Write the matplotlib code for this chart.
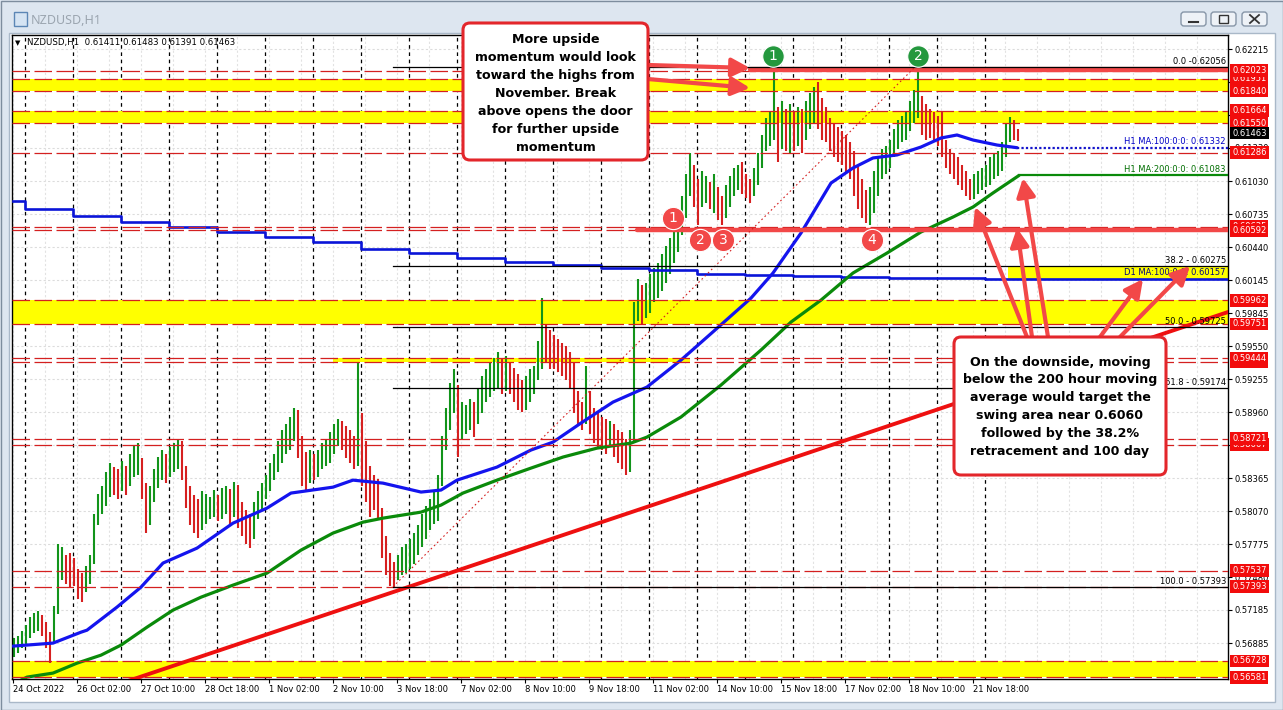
import numpy as np
import matplotlib
matplotlib.use("Agg")
import matplotlib.pyplot as plt
from matplotlib.patches import Rectangle, FancyBboxPatch
from matplotlib.lines import Line2D
from matplotlib.transforms import IdentityTransform, blended_transform_factory

W, H = 1283, 710

# ---- price data: 2-hour bars, one trading day per row (starts 24 Oct 18:00) ----
bar_high = [
    0.5693, 0.5695, 0.5700,
    0.5705, 0.5712, 0.5716, 0.5718, 0.5714, 0.5708, 0.5699, 0.5722, 0.5778, 0.5775, 0.5768, 0.5770,
    0.5765, 0.5755, 0.5752, 0.5758, 0.5768, 0.5805, 0.5823, 0.5830, 0.5842, 0.5850, 0.5847, 0.5845,
    0.5852, 0.5848, 0.5858, 0.5866, 0.5868, 0.5855, 0.5832, 0.5830, 0.5845, 0.5856, 0.5862, 0.5858,
    0.5865, 0.5868, 0.5871, 0.5870, 0.5848, 0.5830, 0.5822, 0.5818, 0.5825, 0.5823, 0.5820, 0.5826,
    0.5822, 0.5828, 0.5830, 0.5827, 0.5833, 0.5831, 0.5815, 0.5808, 0.5805, 0.5815, 0.5825, 0.5832,
    0.5840, 0.5850, 0.5858, 0.5870, 0.5880, 0.5885, 0.5892, 0.5900, 0.5898, 0.5875, 0.5860, 0.5862,
    0.5858, 0.5862, 0.5868, 0.5872, 0.5878, 0.5885, 0.5890, 0.5888, 0.5884, 0.5880, 0.5875, 0.5941,
    0.5895, 0.5870, 0.5848, 0.5840, 0.5836, 0.5810, 0.5785, 0.5770, 0.5762, 0.5768, 0.5775, 0.5778,
    0.5782, 0.5788, 0.5795, 0.5805, 0.5812, 0.5818, 0.5825, 0.5840, 0.5875, 0.5900, 0.5922, 0.5935,
    0.5920, 0.5905, 0.5902, 0.5908, 0.5905, 0.5918, 0.5928, 0.5935, 0.5940, 0.5945, 0.5950, 0.5944,
    0.5946, 0.5940, 0.5936, 0.5930, 0.5925, 0.5928, 0.5935, 0.5937, 0.5960, 0.5998, 0.5975, 0.5970,
    0.5965, 0.5962, 0.5958, 0.5955, 0.5950, 0.5940, 0.5915, 0.5905, 0.5937, 0.5915, 0.5900, 0.5895,
    0.5892, 0.5890, 0.5888, 0.5885, 0.5880, 0.5878, 0.5872, 0.5880, 0.5995, 0.6015, 0.6010, 0.6012,
    0.6020, 0.6025, 0.6030, 0.6038, 0.6045, 0.6052, 0.6060, 0.6070, 0.6090, 0.6110, 0.6128, 0.6118,
    0.6105, 0.6112, 0.6108, 0.6102, 0.6110, 0.6098, 0.6090, 0.6100, 0.6108, 0.6115, 0.6118, 0.6120,
    0.6110, 0.6105, 0.6115, 0.6128, 0.6145, 0.6160, 0.6165, 0.6201, 0.6170, 0.6175, 0.6168, 0.6172,
    0.6165, 0.6170, 0.6168, 0.6175, 0.6182, 0.6188, 0.6192, 0.6178, 0.6170, 0.6160, 0.6155, 0.6152,
    0.6148, 0.6145, 0.6138, 0.6130, 0.6118, 0.6105, 0.6095, 0.6098, 0.6112, 0.6125, 0.6132, 0.6135,
    0.6140, 0.6150, 0.6158, 0.6162, 0.6165, 0.6175, 0.6185, 0.6202, 0.6180, 0.6172, 0.6168, 0.6165,
    0.6162, 0.6165, 0.6140, 0.6132, 0.6128, 0.6125, 0.6118, 0.6112, 0.6105, 0.6110, 0.6112, 0.6115,
    0.6118, 0.6125, 0.6128, 0.6130, 0.6138, 0.6155, 0.6161, 0.6158, 0.6150,
]
bar_low = [
    0.5676, 0.5680, 0.5684,
    0.5688, 0.5693, 0.5698, 0.5700, 0.5695, 0.5684, 0.5671, 0.5690, 0.5715, 0.5745, 0.5742, 0.5738,
    0.5740, 0.5728, 0.5726, 0.5735, 0.5742, 0.5760, 0.5795, 0.5805, 0.5812, 0.5820, 0.5822, 0.5818,
    0.5825, 0.5822, 0.5830, 0.5838, 0.5840, 0.5818, 0.5788, 0.5795, 0.5815, 0.5828, 0.5835, 0.5832,
    0.5838, 0.5842, 0.5845, 0.5835, 0.5810, 0.5795, 0.5788, 0.5783, 0.5790, 0.5796, 0.5800, 0.5802,
    0.5798, 0.5800, 0.5805, 0.5795, 0.5802, 0.5792, 0.5785, 0.5778, 0.5774, 0.5782, 0.5800, 0.5808,
    0.5818, 0.5825, 0.5835, 0.5842, 0.5850, 0.5858, 0.5862, 0.5870, 0.5855, 0.5830, 0.5826, 0.5832,
    0.5835, 0.5838, 0.5845, 0.5848, 0.5850, 0.5858, 0.5866, 0.5862, 0.5855, 0.5850, 0.5845, 0.5848,
    0.5830, 0.5815, 0.5802, 0.5808, 0.5800, 0.5765, 0.5750, 0.5740, 0.5739, 0.5745, 0.5750, 0.5752,
    0.5755, 0.5760, 0.5768, 0.5775, 0.5782, 0.5790, 0.5796, 0.5798, 0.5830, 0.5862, 0.5880, 0.5895,
    0.5856, 0.5872, 0.5876, 0.5880, 0.5874, 0.5885, 0.5895, 0.5905, 0.5910, 0.5915, 0.5918, 0.5912,
    0.5915, 0.5912, 0.5905, 0.5898, 0.5896, 0.5898, 0.5905, 0.5912, 0.5925, 0.5935, 0.5940, 0.5935,
    0.5935, 0.5932, 0.5928, 0.5925, 0.5918, 0.5895, 0.5885, 0.5880, 0.5885, 0.5876, 0.5868, 0.5865,
    0.5862, 0.5858, 0.5865, 0.5856, 0.5850, 0.5845, 0.5840, 0.5842, 0.5870, 0.5978, 0.5975, 0.5980,
    0.5985, 0.5995, 0.5998, 0.6005, 0.6012, 0.6020, 0.6030, 0.6040, 0.6055, 0.6070, 0.6090, 0.6080,
    0.6064, 0.6080, 0.6084, 0.6078, 0.6075, 0.6068, 0.6064, 0.6070, 0.6080, 0.6090, 0.6095, 0.6092,
    0.6088, 0.6084, 0.6090, 0.6100, 0.6115, 0.6130, 0.6135, 0.6140, 0.6120, 0.6132, 0.6130, 0.6128,
    0.6130, 0.6135, 0.6128, 0.6140, 0.6150, 0.6155, 0.6150, 0.6140, 0.6138, 0.6130, 0.6125, 0.6120,
    0.6118, 0.6110, 0.6105, 0.6090, 0.6078, 0.6070, 0.6066, 0.6064, 0.6075, 0.6090, 0.6105, 0.6110,
    0.6115, 0.6125, 0.6132, 0.6138, 0.6140, 0.6148, 0.6155, 0.6160, 0.6145, 0.6140, 0.6142, 0.6138,
    0.6135, 0.6125, 0.6115, 0.6110, 0.6105, 0.6100, 0.6095, 0.6090, 0.6086, 0.6087, 0.6092, 0.6095,
    0.6098, 0.6100, 0.6105, 0.6108, 0.6112, 0.6125, 0.6138, 0.6140, 0.6139,
]

# H1 moving averages (hour index, value)
ma100_hours = [0, 20, 34, 37, 52, 64, 75, 92, 110, 127, 139, 160, 170, 185, 204, 214, 222, 242, 259,
               270, 284, 300, 317, 334, 351, 369, 380, 394, 409, 420, 430, 442, 454, 464, 472, 480, 492, 502]
ma100_vals = [0.56861, 0.56888, 0.56986, 0.57004, 0.57211, 0.57390, 0.57606, 0.57740, 0.57964, 0.58099,
              0.58234, 0.58287, 0.58350, 0.58323, 0.58243, 0.58261, 0.58350, 0.58467, 0.58620, 0.58691,
              0.58862, 0.59050, 0.59185, 0.59427, 0.59696, 0.59983, 0.60208, 0.60567, 0.61015, 0.61150,
              0.61240, 0.61267, 0.61338, 0.61419, 0.61446, 0.61401, 0.61356, 0.61332]
ma200_hours = [0, 7, 20, 32, 44, 54, 67, 80, 94, 110, 127, 144, 160, 175, 185, 204, 214, 225, 242, 259,
               275, 292, 309, 317, 334, 354, 374, 389, 404, 420, 437, 454, 470, 480, 490, 503]
ma200_vals = [0.56520, 0.56583, 0.56619, 0.56708, 0.56780, 0.56870, 0.57031, 0.57184, 0.57300, 0.57408,
              0.57516, 0.57722, 0.57875, 0.57973, 0.58009, 0.58063, 0.58126, 0.58234, 0.58350, 0.58458,
              0.58557, 0.58637, 0.58682, 0.58736, 0.58916, 0.59203, 0.59517, 0.59768, 0.59965, 0.60208,
              0.60387, 0.60576, 0.60710, 0.60800, 0.60926, 0.61083]
# D1 100 MA, one value per trading day (start hour of each day)
d1_start = [0, 6, 30, 54, 78, 102, 126, 150, 174, 198, 222, 246, 270, 294, 318, 342, 366, 390, 414, 438, 462, 486]
d1_vals = [0.60854, 0.60782, 0.60719, 0.60665, 0.60620, 0.60575, 0.60530, 0.60486, 0.60423, 0.60387, 0.60342,
           0.60306, 0.60279, 0.60252, 0.60235, 0.60199, 0.60190, 0.60181, 0.60172, 0.60167, 0.60163, 0.60157]

date_hours = [0, 32, 64, 96, 128, 160, 192, 224, 256, 288, 320, 352, 384, 416, 448, 480]
date_labels = ["24 Oct 2022", "26 Oct 02:00", "27 Oct 10:00", "28 Oct 18:00", "1 Nov 02:00", "2 Nov 10:00",
               "3 Nov 18:00", "7 Nov 02:00", "8 Nov 10:00", "9 Nov 18:00", "11 Nov 02:00", "14 Nov 10:00",
               "15 Nov 18:00", "17 Nov 02:00", "18 Nov 10:00", "21 Nov 18:00"]
price_ticks = [0.62215, 0.61920, 0.61625, 0.61330, 0.61030, 0.60735, 0.60440, 0.60145, 0.59845, 0.59550,
               0.59255, 0.58960, 0.58665, 0.58365, 0.58070, 0.57775, 0.57480, 0.57185, 0.56885]
day_starts = [6 + 24 * d for d in range(21)]

# drawn levels
yellow_zones = [(0.61840, 0.61951, 0), (0.61550, 0.61664, 0), (0.59751, 0.59962, 0),
                (0.56581, 0.56728, 0), (0.60157, 0.60265, 497.5)]
yellow_strip = (0.59409, 0.59444, 160, 338.5)
dashed_levels = [0.62023, 0.61951, 0.61840, 0.61664, 0.61550, 0.61286, 0.60625, 0.60592, 0.59962,
                 0.59751, 0.59444, 0.59409, 0.58721, 0.58667, 0.57537, 0.57393, 0.56728, 0.56581]
label_levels = [0.61951, 0.62023, 0.61840, 0.61664, 0.61550, 0.61286, 0.60625, 0.60592, 0.59962,
                0.59751, 0.59409, 0.59444, 0.58667, 0.58721, 0.57537, 0.57393, 0.56728, 0.56581]
last_price = 0.61463
thick_levels = [(0.62040, 368.5, 3.8), (0.60592, 312, 3.2)]
trend_hours = [50, 607.5]
trend_prices = [0.56503, 0.59858]
fib_hours = [190, 451]
fib_prices = [0.57393, 0.62056]
fib_levels = [0.62056, 0.60275, 0.59725, 0.59174, 0.57393]
fib_texts = ["0.0 -0.62056", "38.2 - 0.60275", "50.0 - 0.59725", "61.8 - 0.59174", "100.0 - 0.57393"]

green_marks = [(380, 0.62155, "1"), (452.5, 0.62155, "2")]
red_marks = [(330, 0.60702, "1"), (343.5, 0.60504, "2"), (355, 0.60504, "3"), (429.5, 0.60504, "4")]

box1_lines = ["More upside", "momentum would look", "toward the highs from", "November. Break",
              "above opens the door", "for further upside", "momentum"]
box2_lines = ["On the downside, moving", "below the 200 hour moving", "average would target the",
              "swing area near 0.6060", "followed by the 38.2%", "retracement and 100 day"]
# arrows: (tail hour, tail price, head hour, head price)
arrows = [(317.5, 0.62074, 368.5, 0.62047), (317.5, 0.61948, 368.5, 0.61868),
          (507, 0.59634, 481, 0.60800), (509.5, 0.59634, 502, 0.60612), (517.5, 0.59634, 505, 0.61060),
          (543.5, 0.59634, 565, 0.60154), (553.5, 0.59634, 588.5, 0.60271)]

RED_LINE = "#d42020"
ARROW_RED = "#f24848"

fig = plt.figure(figsize=(W / 100, H / 100), dpi=100)
fig.patch.set_facecolor("#dde6f0")
ident = IdentityTransform()


def px_rect(x0, y0, x1, y1, **kw):
    r = Rectangle((x0, H - y1), x1 - x0, y1 - y0, transform=ident, **kw)
    fig.add_artist(r)
    return r


# window chrome
px_rect(0.5, 0.5, 1282.5, 709.5, fc="none", ec="#7d8d9e", lw=1, zorder=-2)
px_rect(9, 33, 1275, 702, fc="white", ec="#a9b8c8", lw=1, zorder=-1)
px_rect(14, 12, 27, 26, fc="#d5e4f3", ec="#5b86b5", lw=1, zorder=-1)
fig.text(31, H - 20, "NZDUSD,H1", transform=ident, fontsize=9, color="#9ba5b0",
         va="center", family="Noto Sans", zorder=-1)
for bx in (1181, 1211, 1242):
    fig.add_artist(FancyBboxPatch((bx, H - 26), 25, 14, boxstyle="round,pad=0,rounding_size=3",
                                  transform=ident, fc="#eef2f7", ec="#8796a8", lw=1, zorder=-1))
fig.add_artist(Line2D([1189, 1198], [H - 22, H - 22], transform=ident, color="#333", lw=1.5, zorder=-1))
px_rect(1219, 15, 1228, 23, fc="none", ec="#333", lw=1, zorder=-1)
fig.add_artist(Line2D([1250, 1259], [H - 15, H - 23], transform=ident, color="#333", lw=1.3, zorder=-1))
fig.add_artist(Line2D([1250, 1259], [H - 23, H - 15], transform=ident, color="#333", lw=1.3, zorder=-1))

ax = fig.add_axes([12 / W, 1 - 679 / H, 1216 / W, 644 / H])
ax.set_facecolor("white")
ax.set_xlim(-0.5, 607.5)
ax.set_ylim(0.56566, 0.62343)
for s in ax.spines.values():
    s.set_color("black")
    s.set_linewidth(1)

# grid and period separators
for p in price_ticks:
    ax.axhline(p, color="#dcdcdc", lw=0.8, ls=(0, (2, 2)), zorder=0.5)
for h in np.arange(0, 608, 16):
    ax.axvline(h, color="#e2e2e2", lw=0.8, ls=(0, (2, 2)), zorder=0.5)
for h in day_starts:
    ax.axvline(h, color="black", lw=0.9, ls=(0, (2.9, 2.9)), zorder=0.6)

# yellow zones
for lo_, hi_, start in yellow_zones:
    ax.fill_between([start, 607.5], lo_, hi_, color="#ffff00", lw=0, zorder=0.8)
ax.fill_between([yellow_strip[2], yellow_strip[3]], yellow_strip[0], yellow_strip[1],
                color="#ffff00", lw=0, zorder=0.8)

# candles
hi = np.array(bar_high)
lo = np.array(bar_low)
bar_x = np.arange(len(hi)) * 2 + 0.5
mid = (hi + lo) / 2
up = np.r_[True, mid[1:] >= mid[:-1]]
ax.vlines(bar_x, lo, hi, colors=np.where(up, "#12941a", "#d62020"), lw=1.5, zorder=2)

# moving averages
ax.step(d1_start + [607.5], d1_vals + [d1_vals[-1]], where="post", color="#0a14d8", lw=1.9, zorder=3)
ax.plot(ma200_hours, ma200_vals, color="#0a8a0a", lw=2.3, zorder=3, solid_capstyle="round")
ax.plot(ma100_hours, ma100_vals, color="#1414ee", lw=2.3, zorder=3, solid_capstyle="round")
ax.plot([ma100_hours[-1], 607.5], [ma100_vals[-1]] * 2, color="#1414cc", lw=1.6, ls=(0, (1, 1)), zorder=3)
ax.plot([ma200_hours[-1], 607.5], [ma200_vals[-1]] * 2, color="#0a8a0a", lw=1.6, zorder=3)

# horizontal levels
for p in dashed_levels:
    ax.axhline(p, color=RED_LINE, lw=0.9, ls=(0, (14, 3.6)), zorder=3.5)
for p, start, lw in thick_levels:
    ax.plot([start, 607.5], [p, p], color=ARROW_RED, lw=lw, solid_capstyle="round", zorder=4)

# trendline and fibonacci
ax.plot(trend_hours, trend_prices, color="#ee1010", lw=2.8, zorder=4)
ax.plot(fib_hours, fib_prices, color="#d42020", lw=0.8, ls=(0, (1.5, 2.5)), zorder=4)
for p, t in zip(fib_levels, fib_texts):
    ax.plot([fib_hours[0], 607.5], [p, p], color="black", lw=0.9, zorder=4)
    ax.text(606.5, p + 0.00008, t, ha="right", va="bottom", fontsize=6, zorder=4)

ax.text(606.5, 0.61332 + 0.00012, "H1 MA:100:0:0: 0.61332", ha="right", va="bottom",
        fontsize=6, color="#0000c8", zorder=4)
ax.text(606.5, 0.61083 + 0.00012, "H1 MA:200:0:0: 0.61083", ha="right", va="bottom",
        fontsize=6, color="#006e00", zorder=4)
ax.text(606.5, 0.60157 + 0.00012, "D1 MA:100:0:0: 0.60157", ha="right", va="bottom",
        fontsize=6, color="#000080", zorder=4)

# numbered markers
for h, p, t in green_marks:
    ax.plot([h], [p], "o", ms=15.5, color="#24983e", mec="white", mew=0.8, zorder=7, clip_on=False)
    ax.text(h, p, t, ha="center", va="center", color="white", fontsize=10, zorder=7.5)
for h, p, t in red_marks:
    ax.plot([h], [p], "o", ms=16, color=ARROW_RED, mec="white", mew=0.8, zorder=7, clip_on=False)
    ax.text(h, p, t, ha="center", va="center", color="white", fontsize=10, zorder=7.5)

# arrows
for th, tp, hh, hp in arrows:
    ax.annotate("", xy=(hh, hp), xytext=(th, tp), annotation_clip=False, zorder=8,
                arrowprops=dict(arrowstyle="-|>,head_length=0.55,head_width=0.28", color=ARROW_RED,
                                lw=3.0, mutation_scale=20, shrinkA=0, shrinkB=0))

# axes ticks
ax.yaxis.tick_right()
ax.set_yticks(price_ticks)
ax.set_yticklabels([f"{p:.5f}" for p in price_ticks], fontsize=6)
ax.set_xticks(date_hours)
ax.set_xticklabels(date_labels, fontsize=6, ha="left")
ax.tick_params(axis="y", length=3, width=0.8, pad=1.5)
ax.tick_params(axis="x", length=3, width=0.8, pad=1.5)

# price labels on the right axis
blend = blended_transform_factory(ax.transAxes, ax.transData)
for p in label_levels:
    ax.text(1.0035, p, f"{p:.5f}", transform=blend, fontsize=6, color="white", va="center", ha="left",
            clip_on=False, zorder=5,
            bbox=dict(boxstyle="square,pad=0.22", fc="#f20c0c", ec="none"))
ax.text(1.0035, last_price, f"{last_price:.5f}", transform=blend, fontsize=6, color="white",
        va="center", ha="left", clip_on=False, zorder=5,
        bbox=dict(boxstyle="square,pad=0.22", fc="black", ec="none"))

# header
fig.text(18, H - 43, "\u25bc", transform=ident, fontsize=5, ha="center", va="center", zorder=5)
fig.text(27, H - 43, "NZDUSD,H1  0.61411 0.61483 0.61391 0.61463", transform=ident,
         fontsize=6.2, va="center", zorder=5)


# annotation boxes
def note_box(x0, y0, x1, y1, lines, first_base, step):
    fig.add_artist(FancyBboxPatch((x0, H - y1), x1 - x0, y1 - y0, boxstyle="round,pad=0,rounding_size=7",
                                  transform=ident, fc="white", ec="#e3262b", lw=2.2, zorder=10))
    cx = (x0 + x1) / 2
    for i, line in enumerate(lines):
        fig.text(cx, H - (first_base + step * i), line, transform=ident, ha="center", va="baseline",
                 fontsize=9.1, fontweight="bold", color="black", zorder=11)


note_box(463, 23, 648, 160, box1_lines, 43.2, 17.95)
note_box(954, 337, 1166, 475, box2_lines, 365.6, 17.9)

fig.savefig("out.png", dpi=100, facecolor=fig.get_facecolor())
